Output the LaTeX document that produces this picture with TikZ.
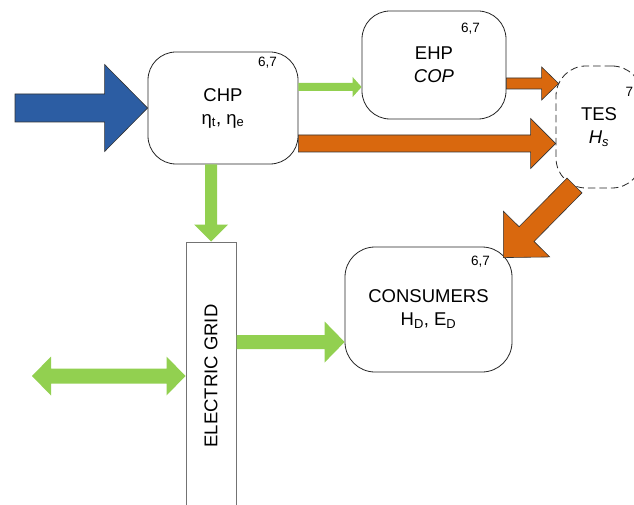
\documentclass[tikz,border=0pt]{standalone}
\usepackage{fontspec}
\setmainfont{Liberation Sans}
\usetikzlibrary{calc}

\definecolor{heatorange}{HTML}{D9680E}
\definecolor{elecgreen}{HTML}{92D050}
\definecolor{fuelblue}{HTML}{2C5DA3}

\newcommand{\labelsize}{\fontsize{18.5}{23}\selectfont}
\newcommand{\tagsize}{\fontsize{13.5}{15}\selectfont}

% Block arrow: #1 style, #2 tail, #3 tip, #4 shaft width, #5 head width, #6 head length
\newcommand{\blockarrow}[6]{%
  \pgfmathsetmacro\bahs{#4/2}\pgfmathsetmacro\bahh{#5/2}%
  \path (#3) coordinate (ba-tip) (#2) coordinate (ba-tail);
  \coordinate (ba-base) at ($(ba-tip)!#6pt!(ba-tail)$);
  \path[#1] ($(ba-tail)!\bahs pt!90:(ba-tip)$)
    -- ($(ba-base)!\bahs pt!90:(ba-tip)$)
    -- ($(ba-base)!\bahh pt!90:(ba-tip)$)
    -- (ba-tip)
    -- ($(ba-base)!\bahh pt!-90:(ba-tip)$)
    -- ($(ba-base)!\bahs pt!-90:(ba-tip)$)
    -- ($(ba-tail)!\bahs pt!-90:(ba-tip)$) -- cycle;
}
% Double-headed block arrow, same arguments
\newcommand{\doubleblockarrow}[6]{%
  \pgfmathsetmacro\bahs{#4/2}\pgfmathsetmacro\bahh{#5/2}%
  \path (#3) coordinate (ba-tip) (#2) coordinate (ba-tail);
  \coordinate (ba-base) at ($(ba-tip)!#6pt!(ba-tail)$);
  \coordinate (ba-base2) at ($(ba-tail)!#6pt!(ba-tip)$);
  \path[#1] (ba-tail)
    -- ($(ba-base2)!\bahh pt!90:(ba-tip)$)
    -- ($(ba-base2)!\bahs pt!90:(ba-tip)$)
    -- ($(ba-base)!\bahs pt!90:(ba-tip)$)
    -- ($(ba-base)!\bahh pt!90:(ba-tip)$)
    -- (ba-tip)
    -- ($(ba-base)!\bahh pt!-90:(ba-tip)$)
    -- ($(ba-base)!\bahs pt!-90:(ba-tip)$)
    -- ($(ba-base2)!\bahs pt!-90:(ba-tip)$)
    -- ($(ba-base2)!\bahh pt!-90:(ba-tip)$) -- cycle;
}

\tikzset{
  unit/.style={draw=black!85, line width=0.8pt, rounded corners=28pt, fill=white,
    align=center, font=\labelsize, inner sep=0pt, rectangle},
  storage/.style={unit, dash pattern=on 7.5pt off 4pt},
  gridbar/.style={draw=black!55, line width=1pt, fill=white, rectangle, inner sep=0pt,
    font=\labelsize},
  tag/.style={font=\tagsize, inner sep=0pt},
  heatflow/.style={fill=heatorange, draw=black!80, line width=0.6pt, line join=miter},
  elecflow/.style={fill=elecgreen},
  fuelflow/.style={fill=fuelblue, draw=black!80, line width=0.6pt, line join=miter},
}

\begin{document}
\begin{tikzpicture}[x=1pt,y=-1pt]
\useasboundingbox (0,0) rectangle (634,505);
\clip (0,0) rectangle (634,505);
\fill[white] (0,0) rectangle (634,505);

% Units
\node[unit, minimum width=150pt, minimum height=112pt] (chp) at (223,108)
  {CHP\\η\textsubscript{t}, η\textsubscript{e}};
\node[unit, minimum width=144pt, minimum height=108pt] (ehp) at (434,65)
  {EHP\\\textit{COP}};
\node[storage, minimum width=86pt, minimum height=122pt, rounded corners=30pt] (tes) at (599,127)
  {TES\\\textit{H\textsubscript{s}}};
\node[unit, minimum width=167pt, minimum height=125pt, rounded corners=30pt] (cons) at (428.5,309.5)
  {CONSUMERS\\H\textsubscript{D}, E\textsubscript{D}};
\node[gridbar, minimum width=50pt, minimum height=268pt] (grid) at (211,376)
  {\rotatebox{90}{ELECTRIC GRID}};

% Section tags
\node[tag] (chp-tag) at ([xshift=-31pt,yshift=-11pt]chp.north east) {6,7};
\node[tag] (ehp-tag) at ([xshift=-36pt,yshift=-18pt]ehp.north east) {6,7};
\node[tag] (cons-tag) at ([xshift=-32pt,yshift=-15pt]cons.north east) {6,7};
\node[tag] (tes-tag) at ([xshift=-13pt,yshift=-26pt]tes.north east) {7};

% Free ends
\coordinate (fuel-in) at (15,108);
\coordinate (grid-ext) at (32,376);
\coordinate (tes-out) at (574.5,185.5);

% Fuel input
\blockarrow{fuelflow}{fuel-in}{chp.west}{28}{87}{43}
% Electricity flows
\blockarrow{elecflow}{[yshift=21pt]chp.east}{[yshift=-22pt]ehp.west}{8}{20}{9}
\blockarrow{elecflow}{[xshift=-12pt]chp.south}{grid.north}{12}{34}{17}
\blockarrow{elecflow}{[yshift=34pt]grid.east}{[yshift=-32.5pt]cons.west}{14}{41}{20}
\doubleblockarrow{elecflow}{grid-ext}{grid.west}{15}{39}{19}
% Heat flows
\blockarrow{heatflow}{[yshift=-18.5pt]ehp.east}{[xshift=3pt,yshift=43.5pt]tes.west}{11}{33}{17}
\blockarrow{heatflow}{[yshift=-35.5pt]chp.east}{[yshift=-16.5pt]tes.west}{17}{50}{25}
\blockarrow{heatflow}{tes-out}{[xshift=-9pt,yshift=-11pt]cons.north east}{21}{65}{33}
\end{tikzpicture}
\end{document}
